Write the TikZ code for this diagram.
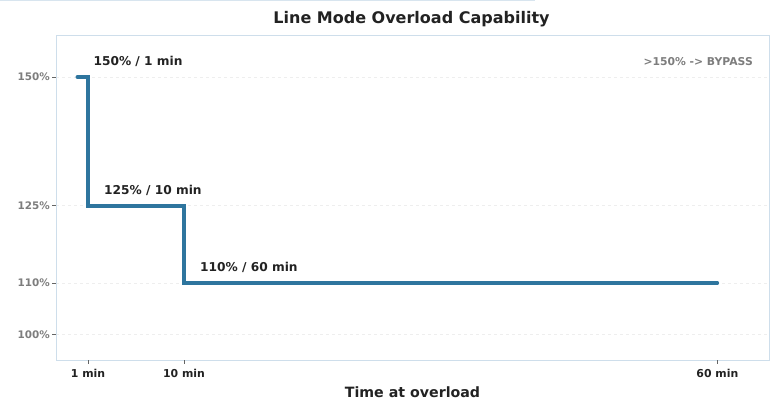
\documentclass[tikz,border=0pt]{standalone}
\usepackage{fontspec}
\setmainfont{DejaVu Sans}
\definecolor{curveblue}{RGB}{46,117,158}
\definecolor{frameblue}{RGB}{206,222,235}
\definecolor{gridgray}{RGB}{238,238,238}
\definecolor{tickgray}{RGB}{125,125,125}
\definecolor{darktext}{RGB}{34,34,34}
\tikzset{%
  topband/.style={color=frameblue!80, line width=1.5pt},
  axframe/.style={color=frameblue, line width=0.9pt},
  gridline/.style={color=gridgray, dashed, line width=0.6pt},
  tickmark/.style={color=darktext!70, line width=0.8pt},
  stepline/.style={color=curveblue, line width=3.6pt, line cap=round, line join=miter},
  titletext/.style={anchor=base, inner sep=0pt, text=darktext, font=\fontsize{16}{18}\selectfont\bfseries},
  axlabel/.style={anchor=base, inner sep=0pt, text=darktext, font=\fontsize{14.2}{16}\selectfont\bfseries},
  ylabel/.style={anchor=base east, inner sep=0pt, text=tickgray, font=\fontsize{10.4}{12}\selectfont\bfseries},
  xlabel/.style={anchor=base, inner sep=0pt, text=darktext, font=\fontsize{10.9}{12}\selectfont\bfseries},
  limitlabel/.style={anchor=base west, inner sep=0pt, text=darktext, font=\fontsize{12.2}{14}\selectfont\bfseries},
  bypasslabel/.style={anchor=base east, inner sep=0pt, text=tickgray, font=\fontsize{10.8}{12}\selectfont\bfseries}
}

\begin{document}
\begin{tikzpicture}[x=1pt,y=1pt]
\useasboundingbox (0,0) rectangle (775,401);
\draw[topband] (0,400.3) -- (535,400.3);
\node[titletext] (title) at (411.5,377) {Line Mode Overload Capability};
% data frame: minutes across, percent up
\begin{scope}[shift={(77.33,-448.5)},x=10.667pt,y=5.15pt]
\foreach \v in {100,110,125,150}{
  \draw[gridline] (-2,\v) -- (64.85,\v);
  \draw[tickmark] (-2,\v) -- ++(-3.5pt,0);
  \node[ylabel] (y\v) at ([xshift=-6pt,yshift=-4pt]-2,\v) {\v\%};
}
\draw[axframe] (-2,95) rectangle (64.85,158);
\foreach \m in {1,10,60}{
  \draw[tickmark] (\m,95) -- ++(0,-3.5pt);
  \node[xlabel] (x\m) at ([yshift=-17pt]\m,95) {\m\ min};
}
\coordinate (s0) at (0,150);
\coordinate (s1) at (1,150);
\coordinate (s2) at (1,125);
\coordinate (s3) at (10,125);
\coordinate (s4) at (10,110);
\coordinate (s5) at (60,110);
\draw[stepline] (s0) -- (s1) -- (s2) -- (s3) -- (s4) -- (s5);
\node[limitlabel] (l150) at (1.5,152.2) {150\% / 1 min};
\node[limitlabel] (l125) at (2.5,127.2) {125\% / 10 min};
\node[limitlabel] (l110) at (11.5,112.2) {110\% / 60 min};
\node[bypasslabel] (bypass) at (63.34,152.2) {>150\% -> BYPASS};
\end{scope}
\node[axlabel] (xtitle) at (412.5,4) {Time at overload};
\end{tikzpicture}
\end{document}
